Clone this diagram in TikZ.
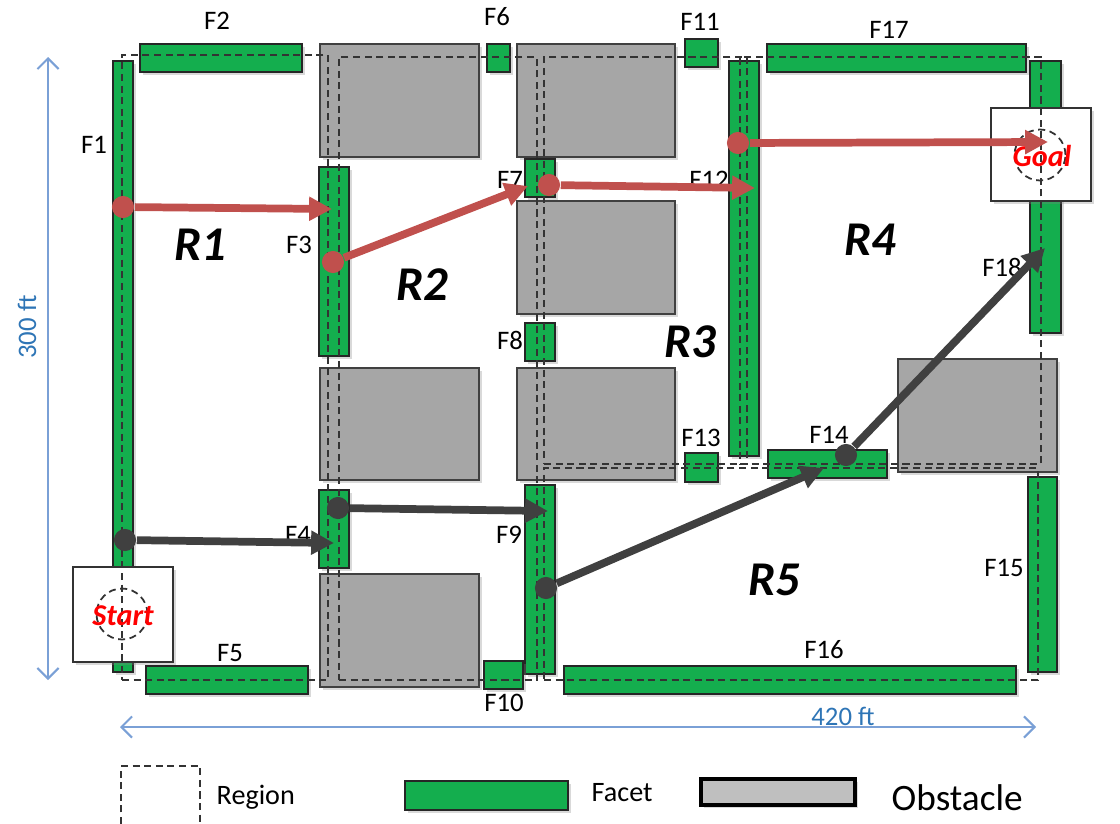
\documentclass[tikz,border=0pt]{standalone}
\usepackage{fontspec}
\setmainfont{Carlito}
\usetikzlibrary{arrows.meta,positioning,fit,shadows}

\definecolor{facetgreen}{RGB}{20,174,78}
\definecolor{obsgray}{RGB}{166,166,166}
\definecolor{legendgray}{RGB}{191,191,191}
\definecolor{pathred}{RGB}{192,80,77}
\definecolor{pathgray}{RGB}{64,64,64}
\definecolor{dimblue}{RGB}{122,160,214}
\definecolor{dimtext}{RGB}{46,117,182}

\tikzset{
  softshadow/.style={drop shadow={shadow xshift=0.8pt, shadow yshift=-0.8pt, opacity=0.3}},
  facet/.style={draw=black!85, line width=0.5pt, fill=facetgreen, inner sep=0pt, softshadow},
  obstacle/.style={draw=black!75, line width=0.5pt, fill=obsgray, inner sep=0pt, softshadow},
  endbox/.style={draw=black!80, line width=0.5pt, fill=white, inner sep=0pt, softshadow},
  region/.style={draw=black!80, line width=0.5pt, dash pattern=on 2pt off 1.3pt, inner sep=0pt},
  endcircle/.style={circle, draw=black!80, line width=0.5pt, dash pattern=on 2pt off 1.3pt, minimum size=14.5pt, inner sep=0pt},
  endtext/.style={text=red, font=\fontsize{8.6}{10}\selectfont\bfseries\itshape, inner sep=0pt},
  flabel/.style={font=\fontsize{7.6}{9}\selectfont, inner sep=0pt},
  rlabel/.style={font=\fontsize{13.8}{15}\selectfont\bfseries\itshape, inner sep=0pt},
  redpath/.style={draw=pathred, line width=2.2pt, -{Triangle[length=6.5pt,width=6.5pt]}},
  graypath/.style={draw=pathgray, line width=2.2pt, -{Triangle[length=6.5pt,width=6.5pt]}},
  reddot/.style={circle, fill=pathred, minimum size=6.3pt, inner sep=0pt},
  graydot/.style={circle, fill=pathgray, minimum size=6.3pt, inner sep=0pt},
  dimline/.style={draw=dimblue, line width=0.6pt, {Straight Barb[length=3pt,width=6pt]}-{Straight Barb[length=3pt,width=6pt]}},
  dimlabel/.style={text=dimtext, font=\fontsize{7.6}{9}\selectfont, inner sep=0pt},
  legendtext/.style={font=\fontsize{8}{9}\selectfont, inner sep=0pt, anchor=west}
}

\begin{document}
\begin{tikzpicture}[x=0.01cm, y=-0.01cm]
    \useasboundingbox (0,0) rectangle (1120,824);

    % obstacles
    \node[obstacle, fit={(320,44)(479,157)}] (O1) {};
    \node[obstacle, fit={(517,44)(675,157)}] (O2) {};
    \node[obstacle, fit={(517,201)(675,314)}] (O3) {};
    \node[obstacle, fit={(320,368)(479,480)}] (O4) {};
    \node[obstacle, fit={(517,368)(675,480)}] (O5) {};
    \node[obstacle, fit={(898,359)(1057,472)}] (O6) {};
    \node[obstacle, fit={(320,574)(479,687)}] (O7) {};

    % facets
    \node[facet, fit={(113,61)(133,672)}] (F1) {};
    \node[facet, fit={(140,44)(302,72)}] (F2) {};
    \node[facet, fit={(319,167)(349,356)}] (F3) {};
    \node[facet, fit={(319,490)(349,568)}] (F4) {};
    \node[facet, fit={(146,666)(308,694)}] (F5) {};
    \node[facet, fit={(487,44)(510,72)}] (F6) {};
    \node[facet, fit={(525,159)(555,197)}] (F7) {};
    \node[facet, fit={(525,323)(555,361)}] (F8) {};
    \node[facet, fit={(525,485)(555,674)}] (F9) {};
    \node[facet, fit={(484,661)(523,689)}] (F10) {};
    \node[facet, fit={(685,39)(718,67)}] (F11) {};
    \node[facet, fit={(729,61)(759,456)}] (F12) {};
    \node[facet, fit={(685,453)(718,482)}] (F13) {};
    \node[facet, fit={(768,450)(887,478)}] (F14) {};
    \node[facet, fit={(1028,477)(1057,672)}] (F15) {};
    \node[facet, fit={(564,666)(1016,694)}] (F16) {};
    \node[facet, fit={(767,44)(1026,72)}] (F17) {};
    \node[facet, fit={(1030,61)(1061,333)}] (F18) {};

    % start and goal
    \node[endbox, fit={(73,567)(173,662)}] (startbox) {};
    \node[endbox, fit={(991,108)(1091,201)}] (goalbox) {};

    % regions
    \node[region, fit={(122,55)(328,680)}] (R1box) {};
    \node[region, fit={(339,57)(537,680)}] (R2box) {};
    \node[region, fit={(544,57)(747,464)}] (R3box) {};
    \node[region, fit={(740,57)(1041,464)}] (R4box) {};
    \node[region, fit={(544,468)(1038,680)}] (R5box) {};

    \node[endcircle] (startring) at (122,614) {};
    \node[endcircle] (goalring) at (1040,155) {};
    \node[endtext] (starttext) at (123,616) {Start};
    \node[endtext] (goaltext) at (1042,156) {Goal};

    % facet labels
    \node[flabel] (lF1) at (94,145) {F1};
    \node[flabel] (lF2) at (217,21) {F2};
    \node[flabel] (lF3) at (299,245) {F3};
    \node[flabel] (lF4) at (298,535) {F4};
    \node[flabel] (lF5) at (230,653) {F5};
    \node[flabel] (lF6) at (497,17) {F6};
    \node[flabel] (lF7) at (510,180) {F7};
    \node[flabel] (lF8) at (510,340) {F8};
    \node[flabel] (lF9) at (509,535) {F9};
    \node[flabel] (lF10) at (504,703) {F10};
    \node[flabel] (lF11) at (700,22) {F11};
    \node[flabel] (lF12) at (709,180) {F12};
    \node[flabel] (lF13) at (701,438) {F13};
    \node[flabel] (lF14) at (829,435) {F14};
    \node[flabel] (lF15) at (1004,568) {F15};
    \node[flabel] (lF16) at (824,650) {F16};
    \node[flabel] (lF17) at (889,30) {F17};
    \node[flabel] (lF18) at (1002,267) {F18};

    % region labels
    \node[rlabel] (lR1) at (200,245) {R1};
    \node[rlabel] (lR2) at (422,285) {R2};
    \node[rlabel] (lR3) at (690,342) {R3};
    \node[rlabel] (lR4) at (870,240) {R4};
    \node[rlabel] (lR5) at (774,580) {R5};

    % red path
    \node[reddot] (d1) at (123,207) {};
    \node[reddot] (d2) at (333,262) {};
    \node[reddot] (d3) at (549,185) {};
    \node[reddot] (d4) at (738,143) {};
    \coordinate (t1) at (332,209);
    \coordinate (t2) at (528,186);
    \coordinate (t3) at (755,188);
    \coordinate (t4) at (1048,142);
    \draw[redpath] (d1) -- (t1);
    \draw[redpath] (d2) -- (t2);
    \draw[redpath] (d3) -- (t3);
    \draw[redpath] (d4) -- (t4);

    % gray path
    \node[graydot] (d5) at (125,540) {};
    \node[graydot] (d6) at (338,508) {};
    \node[graydot] (d7) at (546,588) {};
    \node[graydot] (d8) at (846,455) {};
    \coordinate (t5) at (334,543);
    \coordinate (t6) at (548,511);
    \coordinate (t7) at (824,468);
    \coordinate (t8) at (1045,248);
    \draw[graypath] (d5) -- (t5);
    \draw[graypath] (d6) -- (t6);
    \draw[graypath] (d7) -- (t7);
    \draw[graypath] (d8) -- (t8);

    % dimensions
    \coordinate (vtop) at (48,57);
    \coordinate (vbot) at (48,680);
    \draw[dimline] (vtop) -- (vbot);
    \node[dimlabel, rotate=90] (h300) at (27,327) {300 ft};
    \coordinate (hleft) at (120,727);
    \coordinate (hright) at (1036,727);
    \draw[dimline] (hleft) -- (hright);
    \node[dimlabel] (w420) at (843,716) {420 ft};

    % legend
    \draw[region] (121,824) |- (200,766) -- (200,824);
    \node[legendtext] (legregion) at (216,797) {Region};
    \node[facet, fit={(405,781)(568,810)}] (legfacet) {};
    \node[legendtext] (legfacettext) at (591,793) {Facet};
    \node[draw=black, line width=1.2pt, fill=legendgray, inner sep=0pt, softshadow,
          fit={(701,779)(855,805)}] (legobstacle) {};
    \node[legendtext, font=\fontsize{10.6}{13}\selectfont] (legobstext) at (891,798) {Obstacle};
\end{tikzpicture}
\end{document}
